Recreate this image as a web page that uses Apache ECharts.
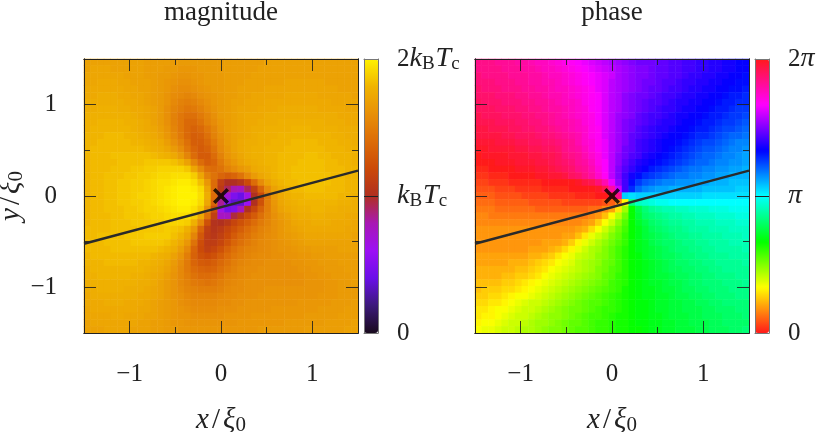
<!DOCTYPE html>
<html>
<head>
<meta charset="utf-8">
<script src="https://cdn.jsdelivr.net/npm/echarts@6/dist/echarts.min.js"></script>
<style>
html, body { margin: 0; background: #fff; }
#chart { width: 830px; height: 432px; }
</style>
</head>
<body>
<div id="chart"></div>
<script>
// rows run top (y = 1.5) to bottom (y = -1.5), columns left to right, percent of the colour bar range
const magnitudeRows = [
[85,85,85,85,85,85,85,85,85,84,84,84,84,83,83,83,83,83,83,83,83,84,84,84,84,84,84,85,85,85,85,85,85,85,85,85,85,85,85,85,85],
[85,86,86,86,85,85,85,85,85,84,84,84,83,83,82,82,82,83,83,83,83,84,84,84,84,84,85,85,85,85,85,85,85,85,85,85,85,85,85,85,85],
[86,86,86,86,86,86,85,85,85,84,84,83,83,82,81,81,82,82,83,83,83,84,84,84,84,85,85,85,85,85,85,85,85,85,85,85,85,85,85,85,85],
[86,86,87,87,87,86,86,85,85,85,84,83,82,81,80,80,81,82,83,83,83,84,84,84,85,85,85,85,85,85,86,86,86,86,86,86,85,85,85,85,85],
[87,87,87,87,87,87,86,86,85,85,84,83,82,80,79,79,80,81,82,83,83,84,84,85,85,85,85,86,86,86,86,86,86,86,86,86,86,86,85,85,85],
[87,87,88,88,88,87,87,86,86,85,84,83,81,79,78,77,78,80,81,82,83,84,84,85,85,86,86,86,86,86,87,87,87,87,87,86,86,86,86,86,85],
[88,88,88,88,88,88,87,87,86,85,84,83,81,78,76,75,76,78,80,82,83,84,85,85,86,86,86,87,87,87,87,87,87,87,87,87,87,86,86,86,86],
[88,88,89,89,89,88,88,87,87,86,85,83,80,77,75,73,74,76,79,81,83,84,85,86,86,86,87,87,87,88,88,88,88,88,88,87,87,87,87,86,86],
[89,89,89,89,89,89,89,88,87,86,85,83,80,76,73,71,71,74,77,80,83,84,85,86,87,87,87,88,88,88,88,88,88,88,88,88,88,88,87,87,87],
[89,89,90,90,90,90,89,89,88,87,85,83,80,76,73,69,69,72,76,79,82,84,85,86,87,87,88,88,88,89,89,89,89,89,89,89,88,88,88,87,87],
[89,90,90,90,90,90,90,89,88,87,86,84,81,77,73,69,67,69,73,77,81,84,85,86,87,88,88,89,89,89,89,90,90,90,89,89,89,89,88,88,88],
[90,90,90,91,91,91,90,90,89,88,87,85,82,78,74,69,66,67,71,76,80,83,85,86,87,88,89,89,89,90,90,90,90,90,90,90,90,89,89,88,88],
[90,90,91,91,91,91,91,90,90,89,88,87,84,80,76,71,66,66,69,74,79,83,85,87,88,88,89,89,90,90,90,91,91,91,91,90,90,90,89,89,88],
[90,91,91,91,91,91,91,91,91,90,89,88,86,83,79,73,68,65,67,72,78,82,85,87,88,89,89,90,90,90,91,91,91,91,91,91,90,90,90,89,89],
[90,91,91,91,92,92,92,92,92,92,91,90,89,87,83,77,70,65,65,70,76,81,84,86,88,89,89,90,90,91,91,91,91,92,92,91,91,90,90,90,89],
[90,91,91,91,91,92,92,92,92,93,93,93,93,92,90,85,77,70,66,68,74,79,82,85,87,88,89,90,90,91,91,91,92,92,92,92,91,91,90,90,89],
[90,91,91,91,92,92,92,93,93,94,94,95,95,95,95,93,86,78,71,70,72,76,79,82,84,87,88,89,90,91,91,92,92,92,92,92,91,91,91,90,90],
[90,91,91,92,92,92,93,93,94,94,95,96,96,97,97,97,94,86,76,72,68,66,68,72,78,83,86,88,90,91,91,92,92,92,92,92,92,91,91,90,90],
[90,91,91,92,92,93,93,94,94,95,96,97,97,98,99,99,97,92,82,70,56,50,50,53,60,70,79,85,88,90,91,91,92,92,92,92,92,91,91,90,90],
[90,91,91,92,92,93,93,94,94,95,96,97,98,99,100,100,99,96,86,70,54,46,40,38,46,56,68,79,85,88,90,91,91,92,92,92,91,91,91,90,90],
[90,91,91,92,92,93,93,94,95,95,96,97,98,99,100,100,100,97,88,70,48,34,24,20,32,50,60,74,83,87,89,90,90,91,91,91,91,91,90,90,89],
[90,91,91,92,92,93,93,94,94,95,96,97,98,99,100,100,99,96,86,68,42,24,18,18,30,50,62,75,82,86,88,89,90,90,90,90,90,90,89,89,88],
[90,91,91,92,92,92,93,93,94,95,95,96,97,98,99,99,97,93,80,62,32,22,24,38,50,58,67,75,81,85,87,88,89,89,90,90,89,89,88,88,88],
[90,91,91,91,92,92,93,93,93,94,95,95,96,97,97,97,94,87,72,56,38,38,48,54,60,65,71,76,80,83,85,87,88,88,89,89,88,88,88,87,87],
[90,91,91,91,92,92,92,93,93,93,94,94,95,95,95,94,89,78,62,51,50,53,58,62,66,70,74,77,80,82,84,86,87,87,88,88,88,87,87,87,86],
[91,91,91,91,92,92,92,92,93,93,93,93,94,93,92,89,82,68,56,52,54,58,62,66,70,73,76,78,80,82,84,85,86,87,87,87,87,87,87,86,86],
[91,91,92,92,92,92,93,93,93,94,94,94,94,92,90,86,77,64,55,53,56,60,65,69,72,75,77,79,80,82,83,84,85,86,86,86,86,86,86,86,85],
[91,91,91,92,92,92,92,93,93,93,93,93,92,90,87,82,72,61,55,55,58,63,68,71,74,76,78,79,80,81,82,83,84,85,85,85,85,85,85,85,85],
[91,91,91,91,92,92,92,92,92,92,92,91,90,88,84,78,68,60,56,58,62,67,71,74,76,77,78,79,80,81,81,82,83,83,84,84,84,84,85,85,85],
[90,91,91,91,91,91,91,91,91,91,90,89,88,85,81,75,67,62,60,62,66,70,73,75,77,78,79,79,80,80,81,81,82,82,83,83,84,84,84,84,84],
[90,90,90,91,91,91,91,91,90,90,89,88,86,83,79,74,68,65,64,66,69,72,75,77,78,79,79,80,80,80,80,81,81,82,82,83,83,83,84,84,84],
[89,90,90,90,90,90,90,90,90,89,88,87,85,82,78,74,70,68,67,68,71,74,76,78,79,79,80,80,80,80,80,80,81,81,82,82,83,83,83,84,84],
[89,89,90,90,90,90,90,89,89,88,87,86,84,81,78,75,72,70,70,71,73,76,77,78,79,80,80,80,80,80,80,80,80,81,81,82,82,83,83,83,84],
[88,89,89,89,89,89,89,89,88,88,87,85,83,81,78,76,74,73,72,73,75,77,78,79,80,80,80,80,80,80,80,80,80,81,81,81,82,82,83,83,84],
[88,88,89,89,89,89,88,88,88,87,86,85,83,81,79,77,76,75,75,75,76,78,79,79,80,80,80,81,81,81,81,81,81,81,81,81,82,82,83,83,83],
[87,88,88,88,88,88,88,88,87,87,86,85,83,81,80,78,77,77,77,77,78,79,79,80,80,80,81,81,81,81,81,81,81,81,81,82,82,82,83,83,83],
[87,87,87,88,88,88,87,87,87,86,85,84,83,82,80,79,78,78,78,78,79,79,80,80,81,81,81,81,81,81,81,81,82,82,82,82,82,83,83,83,84],
[86,87,87,87,87,87,87,87,86,86,85,84,83,82,81,80,79,79,79,79,80,80,80,81,81,81,81,81,82,82,82,82,82,82,82,83,83,83,83,84,84],
[86,86,86,86,87,87,86,86,86,85,85,84,83,82,81,81,80,80,80,80,80,81,81,81,81,82,82,82,82,82,82,82,82,83,83,83,83,83,84,84,84],
[85,86,86,86,86,86,86,86,85,85,84,84,83,82,82,81,81,81,81,81,81,81,81,82,82,82,82,82,82,82,83,83,83,83,83,83,84,84,84,84,85],
[85,85,85,86,86,86,86,85,85,85,84,84,83,83,82,82,82,82,82,82,82,82,82,82,82,82,83,83,83,83,83,83,83,84,84,84,84,84,84,85,85]
];
const phaseRows = [
[92,92,92,91,91,91,90,90,89,88,88,87,86,85,84,83,82,81,80,79,78,77,76,75,74,74,74,73,73,72,72,71,71,70,70,69,69,68,68,67,67],
[92,92,92,92,91,91,91,90,90,89,88,88,87,86,85,84,83,82,81,80,79,78,77,76,75,75,74,73,73,72,72,71,71,70,70,69,69,68,68,67,67],
[93,92,92,92,92,91,91,91,90,90,89,88,88,87,86,85,84,83,82,81,80,78,77,76,75,75,74,73,73,72,72,71,70,70,69,69,68,68,67,67,66],
[93,93,93,92,92,92,91,91,90,90,89,89,88,87,86,85,84,83,82,81,79,78,77,76,75,74,74,73,72,72,71,70,70,69,69,68,68,67,67,66,66],
[94,93,93,93,92,92,92,91,91,90,90,89,88,88,87,86,85,84,82,81,79,78,77,76,75,74,73,73,72,71,71,70,69,69,68,68,67,67,66,66,65],
[94,94,94,93,93,93,92,92,91,91,90,89,89,88,87,86,85,84,83,81,79,78,76,75,74,74,73,72,71,71,70,69,69,68,68,67,67,66,65,65,64],
[95,94,94,94,93,93,93,92,92,91,91,90,89,88,88,87,85,84,83,81,79,78,76,75,74,73,72,72,71,70,69,69,68,68,67,67,66,65,65,64,64],
[95,95,95,94,94,94,93,93,92,92,91,90,90,89,88,87,86,84,83,81,79,78,76,75,74,73,72,71,70,70,69,68,68,67,67,66,65,65,64,63,63],
[96,95,95,95,94,94,94,93,93,92,92,91,90,89,88,87,86,85,83,81,79,77,76,75,73,72,71,71,70,69,68,68,67,67,66,65,65,64,63,63,62],
[96,96,96,95,95,95,94,94,93,93,92,91,90,90,89,88,86,85,83,81,79,77,75,74,73,72,71,70,69,69,68,67,67,66,65,65,64,63,63,62,61],
[97,97,96,96,96,95,95,94,94,93,93,92,91,90,89,88,87,85,84,81,79,77,75,74,72,71,70,69,69,68,67,67,66,65,65,64,63,62,62,61,60],
[97,97,97,97,96,96,95,95,95,94,93,93,92,91,90,89,87,85,84,81,79,77,75,73,72,71,70,69,68,67,67,66,65,64,64,63,62,61,60,60,59],
[98,98,98,97,97,97,96,96,95,95,94,94,93,92,91,89,87,86,84,82,79,77,75,73,71,70,69,68,67,67,66,65,64,63,62,62,61,60,59,58,58],
[99,99,98,98,98,98,97,97,96,96,95,95,94,92,91,90,88,86,84,82,79,77,74,73,71,70,69,68,67,66,65,64,63,62,61,61,60,59,58,58,57],
[100,99,99,99,99,98,98,98,97,97,96,96,95,93,92,91,89,87,85,82,79,76,74,72,71,69,68,67,66,65,64,63,62,61,60,60,59,58,58,57,56],
[100,100,100,99,99,99,98,98,98,97,97,96,95,94,93,91,90,88,85,83,79,76,73,71,69,68,67,66,65,64,63,62,61,60,60,59,58,58,57,57,56],
[1,1,0,100,100,100,99,99,99,98,98,97,96,95,94,92,91,89,86,83,79,75,72,70,68,67,65,64,63,62,61,60,59,59,58,58,57,57,56,56,55],
[2,2,1,1,1,0,0,100,100,99,99,98,98,97,95,94,92,90,87,84,79,75,71,68,66,64,63,62,61,60,59,59,58,58,57,57,56,56,55,55,55],
[3,3,2,2,2,1,1,1,1,1,0,0,100,100,100,99,97,96,93,89,82,76,71,66,63,61,60,59,58,58,57,57,57,56,56,55,55,55,54,54,54],
[4,4,4,3,3,3,2,2,2,2,1,1,1,1,0,0,0,100,99,96,90,80,71,64,60,58,57,56,56,55,55,55,55,55,54,54,54,54,54,53,53],
[5,5,5,4,4,4,4,3,3,3,3,2,2,2,2,1,1,1,0,0,100,92,53,52,53,53,53,53,53,53,53,53,53,53,52,52,52,52,52,52,52],
[6,6,6,5,5,5,5,5,4,4,4,4,4,3,3,3,3,3,3,4,5,8,16,42,46,47,48,49,49,50,50,50,50,50,50,50,50,50,50,50,50],
[7,7,7,6,6,6,6,6,6,5,5,5,5,5,5,5,5,6,6,8,10,15,23,33,38,41,43,44,45,45,46,46,47,47,47,48,48,48,49,49,49],
[8,8,7,7,7,7,7,7,7,7,7,7,7,7,7,7,7,8,9,12,17,21,26,33,37,40,41,42,43,44,44,45,45,46,46,46,47,47,47,48,48],
[8,8,8,8,8,8,8,8,8,8,8,8,8,8,8,8,9,10,13,17,20,24,28,33,36,38,40,41,42,43,43,44,44,45,45,45,46,46,46,47,47],
[9,9,9,9,9,9,9,9,9,9,9,9,9,9,9,10,11,14,17,20,23,26,29,33,35,37,39,40,41,42,42,43,44,44,44,45,45,45,46,46,46],
[9,9,9,9,9,9,9,9,9,9,9,9,9,10,10,12,15,18,20,22,25,27,30,33,35,37,38,39,40,41,42,42,43,43,44,44,44,45,45,45,46],
[9,9,9,9,9,9,9,9,9,9,10,10,10,11,13,16,18,20,22,24,26,28,30,33,35,36,38,39,40,40,41,42,42,43,43,44,44,44,45,45,45],
[9,9,9,9,9,9,9,9,10,10,10,11,12,14,16,18,20,22,23,25,27,29,31,33,35,36,37,38,39,40,41,41,42,42,43,43,44,44,44,44,45],
[10,10,10,10,10,10,10,10,11,11,12,13,15,17,18,20,21,22,24,25,27,29,31,33,34,36,37,38,39,39,40,41,41,42,42,43,43,43,44,44,44],
[10,10,10,10,10,11,11,11,12,13,14,15,17,18,19,21,22,23,24,26,27,29,31,33,34,35,36,37,38,39,40,40,41,41,42,42,43,43,43,43,44],
[11,11,11,11,11,11,12,12,13,14,15,17,18,19,20,21,22,23,25,26,28,29,31,33,34,35,36,37,38,39,39,40,40,41,41,42,42,43,43,43,43],
[11,11,11,11,12,12,13,13,14,15,17,18,19,20,21,22,23,24,25,27,28,30,31,33,34,35,36,37,37,38,39,39,40,40,41,41,42,42,42,43,43],
[12,12,12,12,13,13,14,15,16,17,18,19,20,21,22,23,24,25,26,27,29,30,31,33,34,35,36,36,37,38,38,39,40,40,41,41,41,42,42,42,43],
[12,13,13,13,14,14,15,16,17,18,19,20,21,22,23,24,25,26,27,28,29,30,32,33,34,35,35,36,37,37,38,39,39,40,40,41,41,41,42,42,42],
[13,13,14,14,15,16,17,17,18,19,20,21,22,23,24,25,26,27,28,29,30,31,32,33,34,35,35,36,36,37,38,38,39,39,40,40,41,41,41,42,42],
[14,14,15,15,16,17,18,19,20,20,21,22,23,24,25,26,27,28,28,29,30,31,32,33,34,34,35,36,36,37,37,38,38,39,39,40,40,41,41,41,41],
[15,15,16,17,17,18,19,20,20,21,22,23,24,25,26,26,27,28,29,30,30,31,32,33,34,34,35,36,36,37,37,38,38,38,39,39,40,40,40,41,41],
[15,16,16,17,18,19,20,20,21,22,23,24,24,25,26,27,28,29,29,30,31,32,32,33,34,34,35,35,36,37,37,37,38,38,39,39,39,40,40,40,41],
[16,17,17,18,19,20,20,21,22,23,23,24,25,26,27,27,28,29,30,30,31,32,32,33,34,34,35,35,36,36,37,37,38,38,38,39,39,40,40,40,40],
[17,18,18,19,20,20,21,22,22,23,24,25,25,26,27,28,28,29,30,30,31,32,32,33,33,34,35,35,36,36,37,37,37,38,38,39,39,39,40,40,41]
];
const magnitudeColors = ['#1a0a1e','#3c1a7a','#6a10e8','#9c10f4','#a818b4','#b03020','#cb4a08','#dc6c08','#e89008','#f0b400','#fff200'];
const phaseColors = ['#ff1a1a','#ffff00','#00ff00','#00ffff','#0000ff','#ff00ff','#ff1a1a'];
const cutX = [-1.5, 1.5];
const cutY = [-0.523, 0.277];
const crossPoint = [[0, 0]];
const majorTicks = [-1, 0, 1];
const minorTicks = [-0.5, 0.5];

const font = 'Liberation Serif';
const frameColor = '#222';
const tickColor = 'rgba(30,30,30,0.85)';
const subRich = {
    i: { fontFamily: font, fontStyle: 'italic', fontSize: 28, color: '#222' },
    n: { fontFamily: font, fontSize: 25, color: '#222' },
    sub: { fontFamily: font, fontSize: 19, color: '#222', padding: [10, 1, 0, 0] }
};
const nameRich = {
    i: { fontFamily: font, fontStyle: 'italic', fontSize: 29, color: '#222' },
    n: { fontFamily: font, fontSize: 29, color: '#222', padding: [0, 3, 0, 3] },
    sub: { fontFamily: font, fontSize: 21, color: '#222', padding: [10, 0, 0, 0] }
};
const axisName = (v) => `{i|${v}}{n|/}{i|ξ}{sub|0}`;
const minusLabel = (v) => (v < 0 ? '−' + -v : String(v));

const heatData = (rows) => {
    const out = [];
    rows.forEach((row, i) => row.forEach((v, j) => out.push([j, rows.length - 1 - i, v])));
    return out;
};
const indexLabels = magnitudeRows[0].map((_, i) => i);

const xAxes = [], yAxes = [], grids = [];

function addAxis(list, gridIndex, position, min, max, extra) {
    list.push(Object.assign({
        type: 'value', gridIndex, position, min, max, z: 6,
        splitLine: { show: false },
        axisLine: { show: true, onZero: false, lineStyle: { color: frameColor, width: 1 } },
        axisTick: { show: false },
        axisLabel: { show: false }
    }, extra));
    return list.length - 1;
}
function tick(values, length) {
    return { show: true, inside: true, length, customValues: values, lineStyle: { color: tickColor, width: 1 } };
}

// one square panel: hidden category axes for the heatmap, value axes with mirrored ticks on all sides
function addPanel(left, showY) {
    const g = grids.length;
    grids.push({ left, top: 59, width: 274, height: 274, outerBoundsMode: 'none' });
    const hx = xAxes.push({ type: 'category', gridIndex: g, data: indexLabels, show: false }) - 1;
    const hy = yAxes.push({ type: 'category', gridIndex: g, data: indexLabels, show: false }) - 1;
    const labelStyle = { show: true, customValues: majorTicks, formatter: minusLabel, fontFamily: font, fontSize: 25, color: '#222' };
    const vx = addAxis(xAxes, g, 'bottom', -1.5, 1.5, {
        axisTick: tick(majorTicks, 12),
        axisLabel: Object.assign({ margin: 29 }, labelStyle),
        name: axisName('x'), nameLocation: 'middle', nameGap: 72, nameTextStyle: { rich: nameRich }
    });
    addAxis(xAxes, g, 'bottom', -1.5, 1.5, { axisTick: tick(minorTicks, 6) });
    addAxis(xAxes, g, 'top', -1.5, 1.5, { axisTick: tick(majorTicks, 12) });
    addAxis(xAxes, g, 'top', -1.5, 1.5, { axisTick: tick(minorTicks, 6) });
    const yExtra = { axisTick: tick(majorTicks, 12) };
    if (showY) {
        Object.assign(yExtra, {
            axisLabel: Object.assign({ margin: 27 }, labelStyle),
            name: axisName('y'), nameLocation: 'middle', nameGap: 52, nameRotate: 90, nameTextStyle: { rich: nameRich }
        });
    }
    const vy = addAxis(yAxes, g, 'left', -1.5, 1.5, yExtra);
    addAxis(yAxes, g, 'left', -1.5, 1.5, { axisTick: tick(minorTicks, 6) });
    addAxis(yAxes, g, 'right', -1.5, 1.5, { axisTick: tick(majorTicks, 12) });
    addAxis(yAxes, g, 'right', -1.5, 1.5, { axisTick: tick(minorTicks, 6) });
    return { hx, hy, vx, vy };
}

// colour bar frame and its labels, the bar itself is the visualMap
function addBar(left, formatter, rich) {
    const g = grids.length;
    grids.push({ left, top: 59, width: 14, height: 274, outerBoundsMode: 'none' });
    const grey = { show: true, onZero: false, lineStyle: { color: '#777', width: 1 } };
    addAxis(xAxes, g, 'bottom', 0, 1, { axisLine: grey });
    addAxis(xAxes, g, 'top', 0, 1, { axisLine: grey });
    addAxis(yAxes, g, 'left', 0, 2, { axisLine: grey });
    addAxis(yAxes, g, 'right', 0, 2, {
        axisLine: grey,
        axisTick: { show: true, inside: true, length: 14, customValues: [1], lineStyle: { color: '#222', width: 1 } },
        axisLabel: { show: true, customValues: [0, 1, 2], margin: 19, formatter, rich, align: 'left', fontFamily: font, fontSize: 25, color: '#222' }
    });
}

function panelSeries(axes, rows, name) {
    return [
        { type: 'heatmap', name, xAxisIndex: axes.hx, yAxisIndex: axes.hy, data: heatData(rows), progressive: 0, silent: true, z: 2 },
        { type: 'line', xAxisIndex: axes.vx, yAxisIndex: axes.vy, data: cutX.map((x, i) => [x, cutY[i]]), showSymbol: false, silent: true, z: 7,
          lineStyle: { color: '#2a2a2a', width: 2.4 } },
        { type: 'scatter', xAxisIndex: axes.vx, yAxisIndex: axes.vy, data: crossPoint, silent: true, z: 8, symbolSize: 16,
          symbol: 'path://M2.5 0L8 5.5L13.5 0L16 2.5L10.5 8L16 13.5L13.5 16L8 10.5L2.5 16L0 13.5L5.5 8L0 2.5Z', itemStyle: { color: '#000' } }
    ];
}

const leftAxes = addPanel(84, true);
addBar(364, (v) => (v === 0 ? '{n|0}' : v === 1 ? '{i|k}{sub|B}{i|T}{sub|c}' : '{n|2}{i|k}{sub|B}{i|T}{sub|c}'), subRich);
const rightAxes = addPanel(475, false);
addBar(755, (v) => (v === 0 ? '{n|0}' : v === 1 ? '{i|π}' : '{n|2}{i|π}'), subRich);

const barMap = (seriesIndex, left, color) => ({
    type: 'continuous', seriesIndex, min: 0, max: 100, left, top: 59, padding: 0,
    itemWidth: 14, itemHeight: 274, calculable: false, hoverLink: false, text: null,
    inRange: { color }, z: 4
});

const chart = echarts.init(document.getElementById('chart'));
chart.setOption({
    animation: false,
    backgroundColor: '#fff',
    title: [
        { text: 'magnitude', left: 221, top: -1, padding: 0, textAlign: 'center', textStyle: { fontFamily: font, fontWeight: 'normal', fontSize: 27, color: '#222' } },
        { text: 'phase', left: 612, top: -1, padding: 0, textAlign: 'center', textStyle: { fontFamily: font, fontWeight: 'normal', fontSize: 27, color: '#222' } }
    ],
    grid: grids,
    xAxis: xAxes,
    yAxis: yAxes,
    visualMap: [barMap(0, 364, magnitudeColors), barMap(3, 755, phaseColors)],
    series: panelSeries(leftAxes, magnitudeRows, 'magnitude').concat(panelSeries(rightAxes, phaseRows, 'phase'))
});
</script>
</body>
</html>
